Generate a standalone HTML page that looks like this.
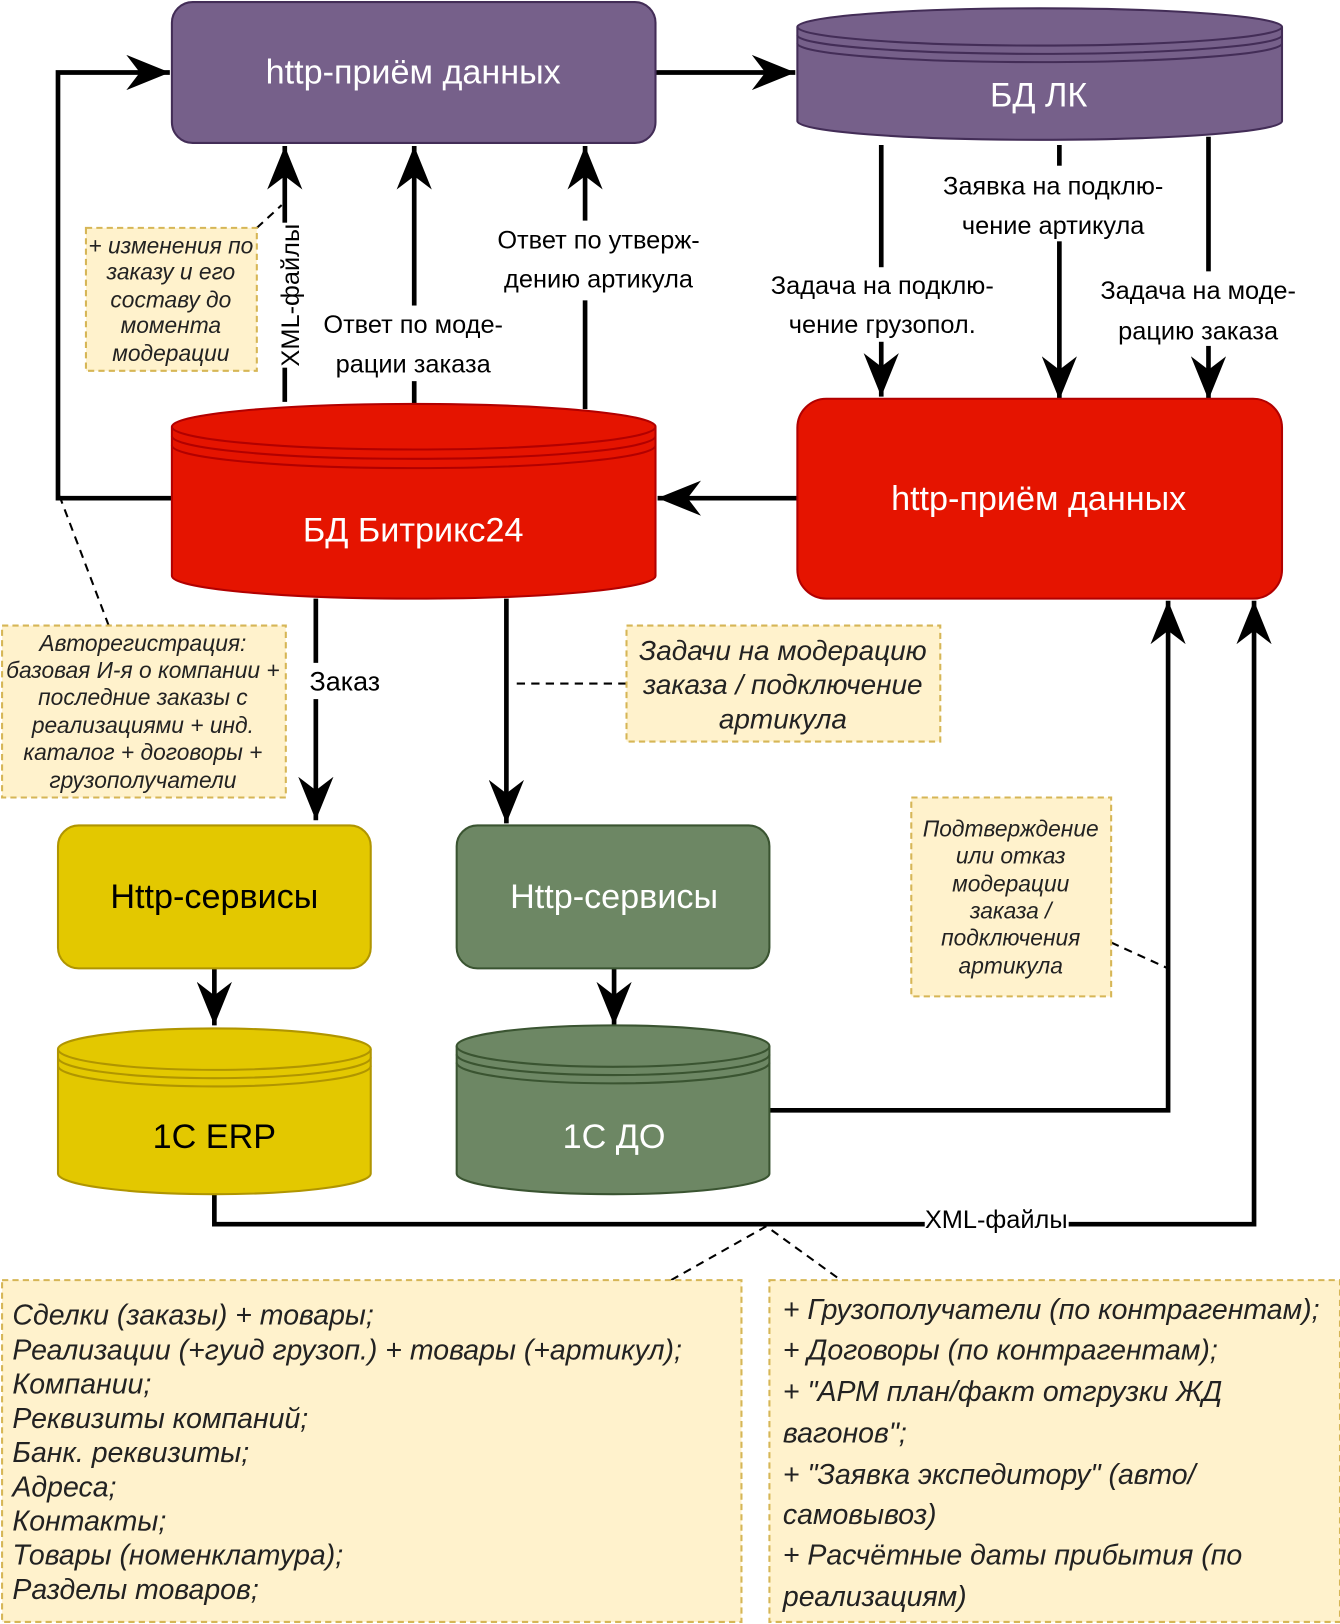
<!DOCTYPE html>
<html><head><meta charset="utf-8"><style>
html,body{margin:0;padding:0;background:#fff;}
svg{display:block;font-family:"Liberation Sans",sans-serif;}
.t{dominant-baseline:central;text-anchor:middle;}
.n{font-style:italic;fill:#222;}
</style></head><body>
<svg width="1340" height="1624" viewBox="0 0 1294 1568" preserveAspectRatio="none" xmlns="http://www.w3.org/2000/svg">
<defs>
<marker id="a" viewBox="0 0 42 34" refX="42" refY="17" markerUnits="userSpaceOnUse" markerWidth="42" markerHeight="34" orient="auto"><path d="M0,0 L42,17 L0,34 L13,17 Z" fill="#000"/></marker>
</defs>
<g fill="none" stroke="#000" stroke-width="4.5">
<polyline points="166,481 56,481 56,70 164,70" marker-end="url(#a)"/>
<line x1="633" y1="70" x2="768" y2="70" marker-end="url(#a)"/>
<line x1="275" y1="388" x2="275" y2="141" marker-end="url(#a)"/>
<line x1="400" y1="390" x2="400" y2="141" marker-end="url(#a)"/>
<line x1="565" y1="395" x2="565" y2="141" marker-end="url(#a)"/>
<line x1="851" y1="140" x2="851" y2="383" marker-end="url(#a)"/>
<line x1="1023" y1="140" x2="1023" y2="386" marker-end="url(#a)"/>
<line x1="1167" y1="132" x2="1167" y2="386" marker-end="url(#a)"/>
<line x1="770" y1="481" x2="635" y2="481" marker-end="url(#a)"/>
<line x1="305" y1="578" x2="305" y2="792" marker-end="url(#a)"/>
<line x1="489" y1="578" x2="489" y2="795" marker-end="url(#a)"/>
<line x1="207" y1="935" x2="207" y2="990" marker-end="url(#a)"/>
<line x1="593" y1="935" x2="593" y2="990" marker-end="url(#a)"/>
<polyline points="743,1072 1128,1072 1128,580" marker-end="url(#a)"/>
<polyline points="207,1153 207,1182 1211,1182 1211,580" marker-end="url(#a)"/>
</g>
<g fill="none" stroke="#000" stroke-width="2" stroke-dasharray="8,6">
<line x1="248" y1="220" x2="272" y2="198"/>
<line x1="105" y1="604" x2="56" y2="475"/>
<line x1="605" y1="660" x2="496" y2="660"/>
<line x1="1073" y1="910" x2="1128" y2="935"/>
<polyline points="648,1236 740,1184 812,1236"/>
</g>
<rect x="166" y="2" width="467" height="136" rx="20" fill="#76608a" stroke="#432d57" stroke-width="2"/>
<g stroke="#432d57" stroke-width="2">
<path d="M770,26 A234,18 0 0 1 1238,26 V117 A234,18 0 0 1 770,117 Z" fill="#76608a"/>
<path d="M770,26 A234,18 0 0 0 1238,26 M770,34 A234,18 0 0 0 1238,34 M770,42 A234,18 0 0 0 1238,42" fill="none"/>
</g>
<g stroke="#b20000" stroke-width="2">
<path d="M166,412 A233.5,22 0 0 1 633,412 V556 A233.5,22 0 0 1 166,556 Z" fill="#e51400"/>
<path d="M166,412 A233.5,22 0 0 0 633,412 M166,421 A233.5,22 0 0 0 633,421 M166,430 A233.5,22 0 0 0 633,430" fill="none"/>
</g>
<rect x="770" y="385" width="468" height="193" rx="28" fill="#e51400" stroke="#b20000" stroke-width="2"/>
<rect x="56" y="797" width="302" height="138" rx="20" fill="#e3c800" stroke="#b09500" stroke-width="2"/>
<rect x="441" y="797" width="302" height="138" rx="20" fill="#6d8764" stroke="#3a5431" stroke-width="2"/>
<g stroke="#b09500" stroke-width="2">
<path d="M56,1013 A151,20 0 0 1 358,1013 V1133 A151,20 0 0 1 56,1133 Z" fill="#e3c800"/>
<path d="M56,1013 A151,20 0 0 0 358,1013 M56,1021 A151,20 0 0 0 358,1021 M56,1029 A151,20 0 0 0 358,1029" fill="none"/>
</g>
<g stroke="#3a5431" stroke-width="2">
<path d="M441,1010 A151,20 0 0 1 743,1010 V1133 A151,20 0 0 1 441,1133 Z" fill="#6d8764"/>
<path d="M441,1010 A151,20 0 0 0 743,1010 M441,1018 A151,20 0 0 0 743,1018 M441,1026 A151,20 0 0 0 743,1026" fill="none"/>
</g>
<g fill="#fff2cc" stroke="#d6b656" stroke-width="2" stroke-dasharray="6,4">
<rect x="83" y="220" width="165" height="138"/>
<rect x="2" y="604" width="274" height="166"/>
<rect x="605" y="604" width="303" height="112"/>
<rect x="880" y="770" width="193" height="192"/>
<rect x="2" y="1236" width="714" height="330"/>
<rect x="743" y="1236" width="551" height="330"/>
</g>
<g fill="#fff">
<rect x="312" y="295" width="174" height="73"/>
<rect x="480" y="213" width="196" height="77"/>
<rect x="908" y="160" width="218" height="73"/>
<rect x="740" y="258" width="223" height="72"/>
<rect x="1062" y="262" width="190" height="72"/>
<rect x="266" y="215" width="30" height="140"/>
<rect x="292" y="640" width="82" height="35"/>
<rect x="893" y="1165" width="139" height="27"/>
</g>
<g font-size="33" fill="#fff">
<text x="399" y="70" class="t">http-приём данных</text>
<text x="1003" y="92" class="t">БД ЛК</text>
<text x="399" y="512" class="t">БД Битрикс24</text>
<text x="1003" y="482" class="t">http-приём данных</text>
<text x="593" y="866" class="t">Http-сервисы</text>
<text x="593" y="1098" class="t">1С ДО</text>
<text x="207" y="866" class="t" fill="#000">Http-сервисы</text>
<text x="207" y="1098" class="t" fill="#000">1C ERP</text>
</g>
<g font-size="24.5" fill="#000">
<text x="399" y="314" class="t">Ответ по моде-</text>
<text x="399" y="352" class="t">рации заказа</text>
<text x="578" y="232" class="t">Ответ по утверж-</text>
<text x="578" y="270" class="t">дению артикула</text>
<text x="1017" y="180" class="t">Заявка на подклю-</text>
<text x="1017" y="218" class="t">чение артикула</text>
<text x="852" y="276" class="t">Задача  на подклю-</text>
<text x="852" y="314" class="t">чение грузопол.</text>
<text x="1157" y="281" class="t">Задача на моде-</text>
<text x="1157" y="320" class="t">рацию заказа</text>
<text x="281" y="285" class="t" transform="rotate(-90 281 285)">XML-файлы</text>
<text x="333" y="658" class="t" font-size="26">Заказ</text>
<text x="962" y="1178" class="t">XML-файлы</text>
</g>
<g class="n" font-size="22">
<text x="165" y="237" class="t">+ изменения по</text>
<text x="165" y="262" class="t">заказу и его</text>
<text x="165" y="289" class="t">составу до</text>
<text x="165" y="314" class="t">момента</text>
<text x="165" y="341" class="t">модерации</text>
<text x="138" y="621" class="t">Авторегистрация:</text>
<text x="138" y="647" class="t">базовая И-я о компании +</text>
<text x="138" y="673" class="t">последние заказы с</text>
<text x="138" y="700" class="t">реализациями + инд.</text>
<text x="138" y="726" class="t">каталог + договоры +</text>
<text x="138" y="753" class="t">грузополучатели</text>
<text x="976" y="800" class="t">Подтверждение</text>
<text x="976" y="826" class="t">или отказ</text>
<text x="976" y="853" class="t">модерации</text>
<text x="976" y="879" class="t">заказа /</text>
<text x="976" y="905" class="t">подключения</text>
<text x="976" y="932" class="t">артикула</text>
</g>
<g class="n" font-size="27">
<text x="756" y="628" class="t">Задачи на модерацию</text>
<text x="756" y="661" class="t">заказа / подключение</text>
<text x="756" y="694" class="t">артикула</text>
</g>
<g class="n" font-size="27.5">
<text x="12" y="1270" dominant-baseline="central">Сделки (заказы) + товары;</text>
<text x="12" y="1304" dominant-baseline="central">Реализации (+гуид грузоп.) + товары (+артикул);</text>
<text x="12" y="1337" dominant-baseline="central">Компании;</text>
<text x="12" y="1370" dominant-baseline="central">Реквизиты компаний;</text>
<text x="12" y="1403" dominant-baseline="central">Банк. реквизиты;</text>
<text x="12" y="1436" dominant-baseline="central">Адреса;</text>
<text x="12" y="1469" dominant-baseline="central">Контакты;</text>
<text x="12" y="1502" dominant-baseline="central">Товары (номенклатура);</text>
<text x="12" y="1535" dominant-baseline="central">Разделы товаров;</text>
<text x="756" y="1265" dominant-baseline="central">+ Грузополучатели (по контрагентам);</text>
<text x="756" y="1304" dominant-baseline="central">+ Договоры (по контрагентам);</text>
<text x="756" y="1344" dominant-baseline="central">+ "АРМ план/факт отгрузки ЖД</text>
<text x="756" y="1384" dominant-baseline="central">вагонов";</text>
<text x="756" y="1424" dominant-baseline="central">+ "Заявка экспедитору" (авто/</text>
<text x="756" y="1463" dominant-baseline="central">самовывоз)</text>
<text x="756" y="1502" dominant-baseline="central">+ Расчётные даты прибытия (по</text>
<text x="756" y="1542" dominant-baseline="central">реализациям)</text>
</g>
</svg>
</body></html>
